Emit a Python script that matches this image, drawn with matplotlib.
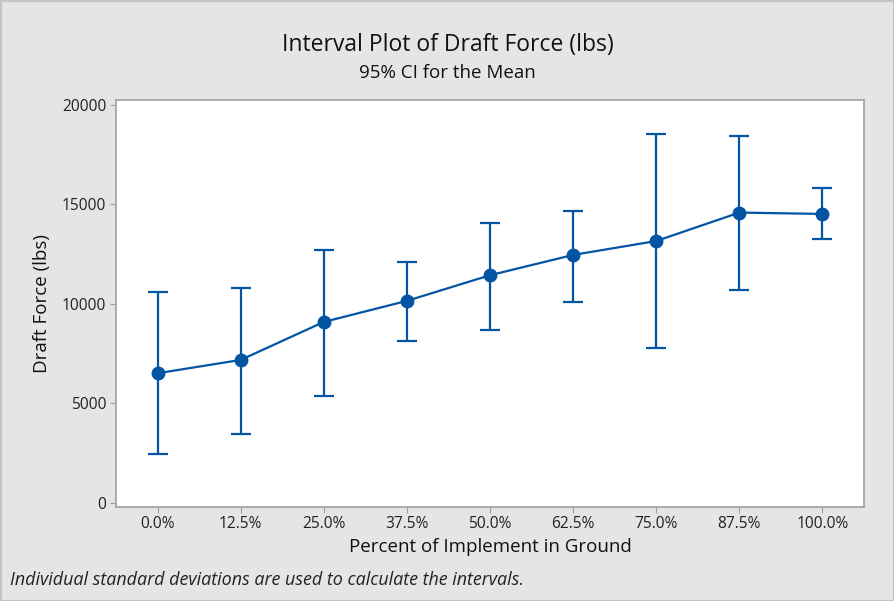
import matplotlib.pyplot as plt
from matplotlib.patches import Rectangle

# Draft force interval data
categories = ["0.0%", "12.5%", "25.0%", "37.5%", "50.0%", "62.5%", "75.0%", "87.5%", "100.0%"]
means = [6510, 7180, 9090, 10150, 11440, 12460, 13160, 14590, 14520]
lower = [2465, 3455, 5370, 8130, 8700, 10110, 7780, 10700, 13260]
upper = [10600, 10800, 12690, 12120, 14070, 14670, 18560, 18460, 15815]

plt.rcParams['font.family'] = ['Open Sans', 'DejaVu Sans']

blue = "#0454a4"
grey = "#a0a0a0"

fig = plt.figure(figsize=(8.95, 6.01), dpi=100, facecolor="#e5e5e5")
fig.patches.append(Rectangle((0.001, 0), 0.998, 0.998, transform=fig.transFigure,
                             fill=False, edgecolor="#c4c4c4", linewidth=1.5))
ax = fig.add_axes([0.1296, 0.1569, 0.8358, 0.6767])
ax.set_facecolor("white")

x = list(range(len(categories)))
yerr = [[m - l for m, l in zip(means, lower)], [u - m for m, u in zip(means, upper)]]
ax.errorbar(x, means, yerr=yerr, fmt="o-", color=blue, ecolor=blue, markersize=9,
            linewidth=1.6, elinewidth=1.6, capsize=7, capthick=1.6)

ax.set_xlim(-0.5, 8.5)
ax.set_ylim(-200, 20250)
ax.set_xticks(x)
ax.set_xticklabels(categories)
ax.set_yticks([0, 5000, 10000, 15000, 20000])

for s in ax.spines.values():
    s.set_color(grey)
    s.set_linewidth(1.2)
ax.tick_params(axis="both", direction="out", length=4, color=grey, labelsize=11.2,
               labelcolor="#222222", pad=3)

ax.set_xlabel("Percent of Implement in Ground", fontsize=13.5, color="#111111", labelpad=4)
ax.set_ylabel("Draft Force (lbs)", fontsize=13.5, color="#111111", labelpad=8)

fig.text(0.5, 0.925, "Interval Plot of Draft Force (lbs)", ha="center", va="center",
         fontsize=16.5, color="#111111")
fig.text(0.5, 0.879, "95% CI for the Mean", ha="center", va="center",
         fontsize=13.5, color="#111111")
fig.text(0.011, 0.035, "Individual standard deviations are used to calculate the intervals.",
         ha="left", va="center", fontsize=12.9, style="italic", color="#222222")

fig.savefig("out.png", dpi=100, facecolor=fig.get_facecolor())
